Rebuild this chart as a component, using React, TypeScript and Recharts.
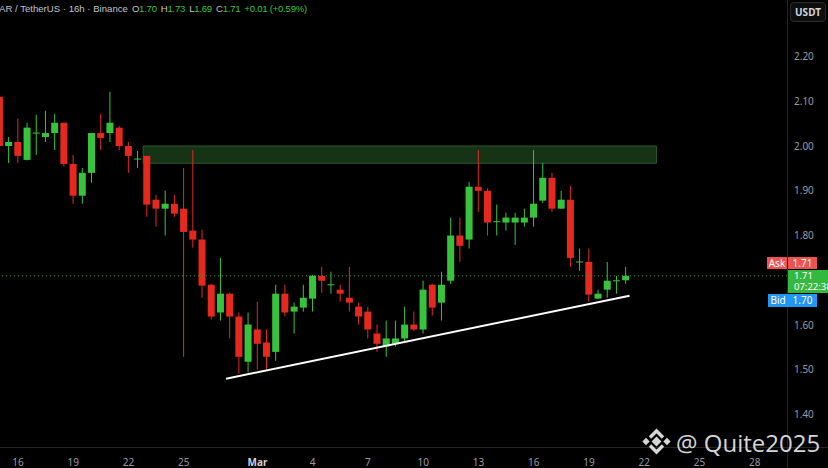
import { ComposedChart, Bar, XAxis, YAxis, ReferenceArea, ReferenceLine } from "recharts";

// 12h candles (first one is cut by the left edge)
const opens = [
  2.11, 2.0, 2.009, 1.969, 2.029, 2.02, 2.029, 2.052, 1.96, 1.889, 1.94, 2.029, 2.029, 2.041, 2.0, 1.971,
  1.978, 1.88, 1.86, 1.871, 1.86, 1.811, 1.791, 1.69, 1.628, 1.67, 1.619, 1.518, 1.59, 1.561, 1.54, 1.67,
  1.63, 1.639, 1.659, 1.71, 1.69, 1.679, 1.661, 1.641, 1.63, 1.581, 1.552, 1.558, 1.57, 1.601, 1.59, 1.69,
  1.65, 1.699, 1.8, 1.791, 1.909, 1.9, 1.831, 1.829, 1.829, 1.829, 1.84, 1.878, 1.929, 1.86, 1.88, 1.741,
  1.741, 1.659, 1.679, 1.699, 1.7,
];
const highs = [
  2.12, 2.02, 2.061, 2.052, 2.07, 2.079, 2.072, 2.052, 1.98, 1.951, 2.029, 2.072, 2.121, 2.045, 2.009, 1.989,
  1.978, 1.891, 1.9, 1.891, 1.951, 1.991, 1.813, 1.692, 1.75, 1.672, 1.628, 1.628, 1.652, 1.59, 1.69, 1.69,
  1.65, 1.69, 1.712, 1.73, 1.719, 1.69, 1.73, 1.65, 1.641, 1.601, 1.61, 1.61, 1.641, 1.63, 1.699, 1.692,
  1.719, 1.84, 1.84, 1.92, 1.991, 1.905, 1.869, 1.851, 1.851, 1.86, 1.991, 1.962, 1.94, 1.9, 1.911, 1.771,
  1.771, 1.679, 1.741, 1.71, 1.73,
];
const lows = [
  1.99, 1.962, 1.962, 1.968, 1.98, 2.009, 1.991, 1.954, 1.871, 1.871, 1.918, 1.991, 2.009, 1.991, 1.94, 1.951,
  1.842, 1.82, 1.8, 1.842, 1.529, 1.773, 1.661, 1.612, 1.61, 1.57, 1.491, 1.494, 1.5, 1.502, 1.52, 1.619,
  1.581, 1.63, 1.63, 1.672, 1.67, 1.652, 1.63, 1.601, 1.57, 1.54, 1.529, 1.552, 1.563, 1.587, 1.581, 1.621,
  1.61, 1.692, 1.741, 1.771, 1.853, 1.8, 1.8, 1.811, 1.779, 1.82, 1.82, 1.873, 1.853, 1.86, 1.73, 1.721,
  1.652, 1.659, 1.661, 1.67, 1.692,
];
const closes = [
  2.0, 2.009, 1.978, 2.041, 2.03, 2.029, 2.052, 1.96, 1.889, 1.94, 2.029, 2.018, 2.052, 2.0, 1.978, 1.972,
  1.869, 1.86, 1.871, 1.849, 1.808, 1.791, 1.688, 1.619, 1.67, 1.619, 1.529, 1.601, 1.558, 1.529, 1.67, 1.628,
  1.641, 1.661, 1.71, 1.699, 1.691, 1.67, 1.65, 1.619, 1.59, 1.558, 1.57, 1.57, 1.601, 1.59, 1.679, 1.639,
  1.69, 1.8, 1.777, 1.909, 1.9, 1.829, 1.832, 1.84, 1.84, 1.84, 1.871, 1.929, 1.86, 1.88, 1.75, 1.742,
  1.668, 1.67, 1.699, 1.7, 1.71,
];

// time axis: slot index -> label
const tickSlots = [2, 8, 14, 20, 28, 34, 40, 46, 52, 58, 64, 70, 76, 82];
const tickLabels = ["16", "19", "22", "25", "Mar", "4", "7", "10", "13", "16", "19", "22", "25", "28"];
// 1.70 sits under the price tags
const priceTicks = [1.4, 1.5, 1.6, 1.8, 1.9, 2.0, 2.1, 2.2];

const SLOTS = 86;
// drawings, in slot units on a numeric twin of the time axis
const zone = { x1: 15.9, x2: 71.0, top: 2.0, bottom: 1.9615 };
const trend = { x1: 24.8, y1: 1.48, x2: 68.1, y2: 1.6655 };
const lastPrice = 1.71;

const UP = "#37c43c";
const DOWN = "#e5291f";
const AXIS_TEXT = "#9a9ca3";

const rows = Array.from({ length: SLOTS }, (_, idx) =>
  idx < opens.length
    ? { idx, open: opens[idx], high: highs[idx], low: lows[idx], close: closes[idx], range: [lows[idx], highs[idx]] }
    : { idx }
);

function Candle(props: any) {
  const { x, y, width, height, payload } = props;
  if (!payload || payload.open == null) return null;
  const { open, close, high, low } = payload;
  const top = Math.min(y, y + height);
  const h = Math.abs(height);
  const ratio = h / (high - low);
  const py = (p: number) => top + (high - p) * ratio;
  const cx = x + width / 2;
  const color = close >= open ? UP : DOWN;
  const bodyTop = py(Math.max(open, close));
  const bodyH = Math.max(1, py(Math.min(open, close)) - bodyTop);
  return (
    <g>
      <line x1={cx} x2={cx} y1={top} y2={top + h} stroke={color} strokeWidth={1} />
      <rect x={cx - 3.5} y={bodyTop} width={7} height={bodyH} fill={color} />
    </g>
  );
}

function TimeTick(props: any) {
  const { x, y, payload } = props;
  const i = tickSlots.indexOf(payload.value);
  if (i < 0) return null;
  const label = tickLabels[i];
  const isMonth = label === "Mar";
  return (
    <text x={x} y={y + 11} textAnchor="middle" fontSize={10} fill={isMonth ? "#d0d2d8" : AXIS_TEXT} fontWeight={isMonth ? 700 : 400}>
      {label}
    </text>
  );
}

const tag = (left: number, top: number, w: number, h: number, bg: string): React.CSSProperties => ({
  position: "absolute",
  left,
  top,
  width: w,
  height: h,
  background: bg,
  color: "#fff",
  fontSize: 10,
  lineHeight: `${h}px`,
  textAlign: "center",
});

export default function App() {
  return (
    <div style={{ position: "relative", width: 828, height: 468, background: "#000", overflow: "hidden", fontFamily: "'Noto Sans', sans-serif" }}>
      <style>{`body{margin:0;background:#000}`}</style>

      <div style={{ position: "absolute", left: -5, top: 0 }}>
        <ComposedChart width={833} height={468} data={rows} margin={{ top: 0, right: 0, bottom: 0, left: 0 }}>
          <XAxis
            dataKey="idx"
            type="category"
            interval={0}
            height={21}
            axisLine={false}
            tickLine={false}
            tick={<TimeTick />}
          />
          <XAxis xAxisId="num" type="number" domain={[-0.5, SLOTS - 0.5]} allowDataOverflow hide />
          <YAxis
            orientation="right"
            type="number"
            domain={[1.3274, 2.3263]}
            ticks={priceTicks}
            width={41}
            axisLine={false}
            tickLine={false}
            tickSize={0}
            tickMargin={7}
            tickFormatter={(v: number) => v.toFixed(2)}
            tick={{ fontSize: 10, fill: AXIS_TEXT, textAnchor: "start" }}
          />
          <ReferenceArea
            xAxisId="num"
            x1={zone.x1}
            x2={zone.x2}
            y1={zone.bottom}
            y2={zone.top}
            fill="#163316"
            fillOpacity={1}
            stroke="#2a5a2a"
            strokeWidth={1}
          />
          <ReferenceLine y={lastPrice} stroke="#3a9a40" strokeDasharray="1 3" strokeWidth={1} />
          <Bar dataKey="range" shape={<Candle />} isAnimationActive={false} />
          <ReferenceLine
            xAxisId="num"
            segment={[
              { x: trend.x1, y: trend.y1 },
              { x: trend.x2, y: trend.y2 },
            ]}
            stroke="#ffffff"
            strokeWidth={2}
          />
        </ComposedChart>
      </div>

      {/* pane separators */}
      <div style={{ position: "absolute", left: 787, top: 0, width: 1, height: 468, background: "#242424" }} />
      <div style={{ position: "absolute", left: 0, top: 447, width: 828, height: 1, background: "#242424" }} />

      {/* legend line */}
      <div style={{ position: "absolute", left: -1, top: 3, fontSize: 9.6, fontFamily: "'Liberation Sans', sans-serif", color: "#c3c5cb", whiteSpace: "nowrap" }}>
        AR / TetherUS · 16h · Binance
        <span style={{ letterSpacing: -0.25 }}>
          <span style={{ marginLeft: 4 }}>O<span style={{ color: UP }}>1.70</span></span>
          <span style={{ marginLeft: 4 }}>H<span style={{ color: UP }}>1.73</span></span>
          <span style={{ marginLeft: 4 }}>L<span style={{ color: UP }}>1.69</span></span>
          <span style={{ marginLeft: 4 }}>C<span style={{ color: UP }}>1.71</span></span>
          <span style={{ marginLeft: 4, color: UP }}>+0.01 (+0.59%)</span>
        </span>
      </div>

      {/* currency box */}
      <div
        style={{
          position: "absolute",
          left: 790,
          top: 2,
          width: 34,
          height: 18,
          border: "1px solid #2c2c2c",
          borderRadius: 4,
          background: "#0e0e0e",
          color: "#d1d4dc",
          fontSize: 10,
          fontWeight: 700,
          lineHeight: "18px",
          textAlign: "center",
        }}
      >
        USDT
      </div>

      {/* price tags */}
      <div style={tag(767, 257, 20, 12, "#ef5350")}>Ask</div>
      <div style={tag(788, 257, 29, 12, "#ef5350")}>1.71</div>
      <div style={{ ...tag(788, 270, 44, 23, "#35b83f"), fontSize: 9.5, lineHeight: "10.5px", textAlign: "left", paddingLeft: 6, boxSizing: "border-box", paddingTop: 1, whiteSpace: "nowrap", overflow: "hidden" }}>
        1.71
        <br />
        07:22:38
      </div>
      <div style={tag(768, 294, 20, 13, "#2196f3")}>Bid</div>
      <div style={tag(788, 294, 29, 13, "#2196f3")}>1.70</div>

      {/* watermark */}
      <svg style={{ position: "absolute", left: 0, top: 0 }} width={828} height={468}>
        <g transform="translate(656.5 441.5)" fill="#d6d6d6" stroke="#d6d6d6">
          <rect x={-3.5} y={-3.5} width={7} height={7} transform="rotate(45)" stroke="none" />
          <rect x={-2.6} y={-2.6} width={5.2} height={5.2} transform="translate(-10.5 0) rotate(45)" stroke="none" />
          <rect x={-2.6} y={-2.6} width={5.2} height={5.2} transform="translate(10.5 0) rotate(45)" stroke="none" />
          <polyline points="-6.5,-4 0,-10.5 6.5,-4" fill="none" strokeWidth={3.4} />
          <polyline points="-6.5,4 0,10.5 6.5,4" fill="none" strokeWidth={3.4} />
        </g>
        <text x={676} y={452} fontSize={24} fill="#d6d6d6" fontFamily="'Open Sans', sans-serif">
          @ Quite2025
        </text>
      </svg>
    </div>
  );
}
